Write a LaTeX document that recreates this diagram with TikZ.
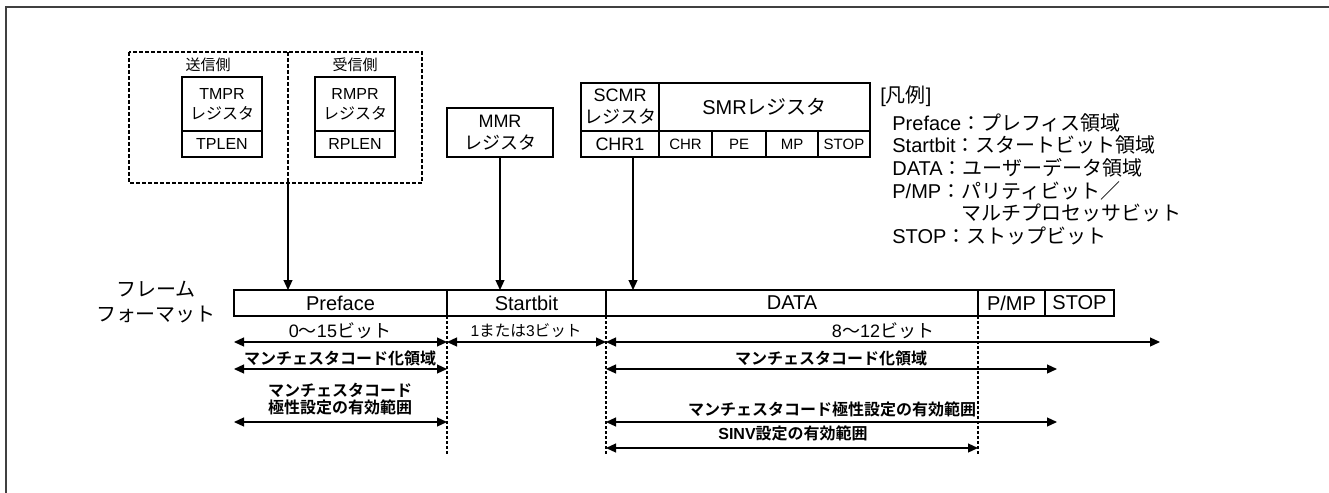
\documentclass[tikz,border=0pt]{standalone}
\usepackage{fontspec}
\setmainfont{Liberation Sans}
\newfontfamily\jp{Noto Sans CJK JP}[BoldFont={Noto Sans CJK JP Bold}]
\usetikzlibrary{arrows.meta}
\begin{document}
\begin{tikzpicture}[
        x=0.5pt, y=-0.5pt,
        every node/.style={align=center, inner sep=0pt, font=\fontsize{10}{12}\selectfont},
        cell/.style={draw, line width=1pt, outer sep=0pt, minimum height=13pt, anchor=west},
        reg/.style={draw, line width=1pt, outer sep=0pt, anchor=north west},
        small/.style={font=\fontsize{8}{10}\selectfont},
        mid/.style={font=\fontsize{9}{11}\selectfont},
        tiny/.style={font=\fontsize{7.5}{9}\selectfont},
        bold/.style={font=\fontsize{8}{8.5}\selectfont\bfseries},
        conn/.style={line width=0.6pt, -{Triangle[length=5pt,width=4.5pt]}},
        dim/.style={line width=0.6pt, {Triangle[length=5pt,width=4.5pt]}-{Triangle[length=5pt,width=4.5pt]}},
        guide/.style={line width=0.6pt, dash pattern=on 1.5pt off 1pt},
        grpline/.style={line width=1pt, dash pattern=on 2pt off 1pt}
    ]
    \useasboundingbox (0,0) rectangle (1329,493);
    \clip (0,0) rectangle (1329,493);
    \draw[line width=1pt, black!75] (6,520) |- (1360,7);

    % send / receive registers
    \draw[grpline] (129,52) rectangle (422,183);
    \draw[grpline] (288,52) -- (288,183);
    \coordinate (grpsplit) at (288,183);
    \node[tiny] (send) at (208,65) {\jp 送信側};
    \node[tiny] (recv) at (355,65) {\jp 受信側};
    \node[reg, small, minimum width=40pt, minimum height=27pt] (tmpr) at (182,77) {TMPR\\\jp レジスタ};
    \node[reg, small, minimum width=40pt, minimum height=13pt, anchor=north] (tplen) at (tmpr.south) {TPLEN};
    \node[reg, small, minimum width=40pt, minimum height=27pt] (rmpr) at (315,77) {RMPR\\\jp レジスタ};
    \node[reg, small, minimum width=40pt, minimum height=13pt, anchor=north] (rplen) at (rmpr.south) {RPLEN};

    \node[reg, mid, minimum width=53pt, minimum height=24.5pt] (mmr) at (447,108) {MMR\\\jp レジスタ};

    \node[reg, mid, minimum width=39pt, minimum height=24pt] (scmr) at (581,83) {SCMR\\\jp レジスタ};
    \node[reg, mid, minimum width=39pt, minimum height=13pt, anchor=north] (chr1) at (scmr.south) {CHR1};
    \node[reg, minimum width=105.5pt, minimum height=24pt] (smr) at (659,83) {SMR{\jp レジスタ}};
    \node[reg, tiny, minimum width=26.5pt, minimum height=13pt] (chr) at (smr.south west) {CHR};
    \node[reg, tiny, minimum width=27pt, minimum height=13pt] (pe) at (chr.north east) {PE};
    \node[reg, tiny, minimum width=26pt, minimum height=13pt] (mp) at (pe.north east) {MP};
    \node[reg, tiny, minimum width=26pt, minimum height=13pt] (stopbit) at (mp.north east) {STOP};

    % legend
    \node[anchor=west] (legtitle) at (880,96) {[{\jp 凡例}]};
    \node[anchor=north west, align=left, font=\fontsize{10}{11.3}\selectfont] (legend) at (892,113) {%
        Preface{\jp ：プレフィス領域}\\
        Startbit{\jp ：スタートビット領域}\\
        DATA{\jp ：ユーザーデータ領域}\\
        P/MP{\jp ：パリティビット／}\\
        \phantom{P/MP{\jp ：}}{\jp マルチプロセッサビット}\\
        STOP{\jp ：ストップビット}};

    % frame format
    \node[font=\fontsize{10}{12.5}\selectfont] (fmt) at (156,302) {\jp フレーム\\\jp フォーマット};
    \node[cell, minimum width=106.5pt] (pre) at (234,303) {Preface};
    \node[cell, minimum width=79.5pt] (start) at (pre.east) {Startbit};
    \node[cell, minimum width=186pt] (data) at (start.east) {DATA};
    \node[cell, minimum width=33.5pt] (pmp) at (data.east) {P/MP};
    \node[cell, minimum width=34.5pt] (stop) at (pmp.east) {STOP};

    \draw[conn] (grpsplit) -- (grpsplit |- pre.north);
    \draw[conn] (mmr.south) -- (mmr.south |- start.north);
    \draw[conn] ([xshift=6.5pt]chr1.south) -- ([xshift=6.5pt]chr1.south |- data.north);

    \draw[guide] (pre.south east) -- ++(0,138);
    \draw[guide] (start.south east) -- ++(0,138);
    \draw[guide] (data.south east) -- ++(0,138);

    % ranges
    \coordinate (r1) at (0,342);
    \coordinate (r2) at (0,369);
    \coordinate (r3) at (0,422);
    \coordinate (r4) at (0,448);
    \coordinate (e1) at (1160,342);
    \coordinate (e2) at (1057,369);
    \coordinate (e3) at (1057,422);
    \draw[dim] (pre.west |- r1) -- (pre.east |- r1);
    \draw[dim] (start.west |- r1) -- (start.east |- r1);
    \draw[dim] (data.west |- r1) -- (e1);
    \draw[dim] (pre.west |- r2) -- (pre.east |- r2);
    \draw[dim] (data.west |- r2) -- (e2);
    \draw[dim] (pre.west |- r3) -- (pre.east |- r3);
    \draw[dim] (data.west |- r3) -- (e3);
    \draw[dim] (data.west |- r4) -- (data.east |- r4);

    \node[font=\fontsize{9}{11}\selectfont] (prelen) at (340,331) {0{\jp 〜}15{\jp ビット}};
    \node[font=\fontsize{7.8}{9}\selectfont] (startlen) at (526,331) {1{\jp または}3{\jp ビット}};
    \node[font=\fontsize{9}{11}\selectfont] (datalen) at (883,331) {8{\jp 〜}12{\jp ビット}};
    \node[bold] (lmenc) at (340,358) {\jp マンチェスタコード化領域};
    \node[bold] (lmpol) at (340,399) {\jp マンチェスタコード\\\jp 極性設定の有効範囲};
    \node[bold] (rmenc) at (831,358) {\jp マンチェスタコード化領域};
    \node[bold] (rmpol) at (832,409) {\jp マンチェスタコード極性設定の有効範囲};
    \node[bold] (sinv) at (793,433) {SINV{\jp 設定の有効範囲}};
\end{tikzpicture}
\end{document}
